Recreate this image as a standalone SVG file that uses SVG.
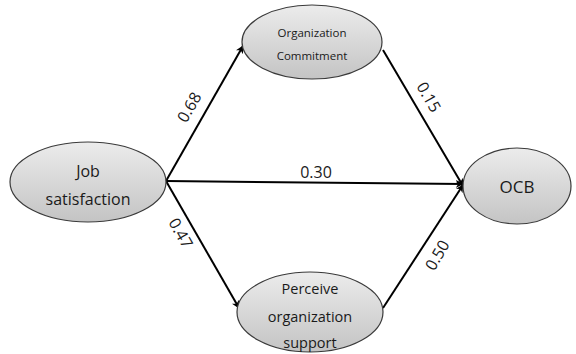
<svg xmlns="http://www.w3.org/2000/svg" width="576" height="354" viewBox="0 0 576 354">
<style>
.n{stroke:#3a3a3a;stroke-width:1.2;fill:url(#g)}
.t{font-family:"Open Sans","DejaVu Sans",sans-serif;fill:#1a1a1a;text-anchor:middle;dominant-baseline:central}
.e{stroke:#000;stroke-width:2;fill:none;marker-end:url(#a)}
</style>
<defs>
<linearGradient id="g" x1="0" y1="0" x2="0" y2="1">
<stop offset="0" stop-color="#ececec"/>
<stop offset="1" stop-color="#c4c4c4"/>
</linearGradient>
<marker id="a" viewBox="0 0 10 10" refX="9" refY="5" markerWidth="8" markerHeight="8" orient="auto" markerUnits="userSpaceOnUse">
<path d="M0,0 L10,5 L0,10 L3,5 z" fill="#000"/>
</marker>
</defs>
<rect width="576" height="354" fill="#fff"/>
<g id="edges">
<line class="e" x1="166" y1="181" x2="243" y2="46"/>
<line class="e" x1="166" y1="181" x2="463" y2="184"/>
<line class="e" x1="166" y1="181" x2="239" y2="308"/>
<line class="e" x1="383" y1="50" x2="463" y2="186"/>
<line class="e" x1="383" y1="308" x2="463" y2="185"/>
<text class="t" font-size="16" transform="translate(189,107) rotate(-60)">0.68</text>
<text class="t" font-size="16" x="316" y="172">0.30</text>
<text class="t" font-size="16" transform="translate(181,233) rotate(60)">0.47</text>
<text class="t" font-size="16" transform="translate(429,97) rotate(60)">0.15</text>
<text class="t" font-size="16" transform="translate(437,255) rotate(-60)">0.50</text>
</g>
<g id="job">
<ellipse class="n" cx="88" cy="182" rx="78" ry="40"/>
<text class="t" font-size="16" x="88" y="171">Job</text>
<text class="t" font-size="16" x="88" y="199">satisfaction</text>
</g>
<g id="oc">
<ellipse class="n" cx="312" cy="42" rx="70" ry="37"/>
<text class="t" font-size="11.5" x="312" y="32">Organization</text>
<text class="t" font-size="11.5" x="312" y="55">Commitment</text>
</g>
<g id="pos">
<ellipse class="n" cx="310" cy="312" rx="73" ry="40"/>
<text class="t" font-size="14.5" x="310" y="288">Perceive</text>
<text class="t" font-size="14.5" x="310" y="316">organization</text>
<text class="t" font-size="14.5" x="310" y="342">support</text>
</g>
<g id="ocb">
<ellipse class="n" cx="517" cy="186" rx="54" ry="38"/>
<text class="t" font-size="17" x="517" y="186">OCB</text>
</g>
</svg>
